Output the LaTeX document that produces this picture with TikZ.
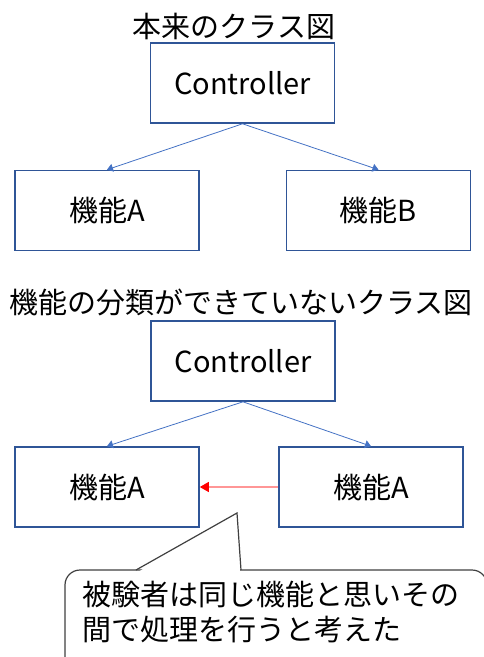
\documentclass[tikz,border=0pt]{standalone}
\usepackage{fontspec}
\setmainfont{Noto Sans CJK JP}
\usetikzlibrary{arrows.meta}
\definecolor{boxblue}{RGB}{47,85,151}
\definecolor{lineblue}{RGB}{68,114,196}
\definecolor{lightred}{RGB}{255,150,150}
\definecolor{calloutgray}{RGB}{64,64,64}
\begin{document}
\begin{tikzpicture}[x=1pt,y=-1pt,
  cls/.style={draw=boxblue,line width=1.6pt,fill=white,minimum width=184pt,minimum height=80pt,inner sep=0pt,font=\fontsize{29}{32}\selectfont},
  ttl/.style={inner sep=0pt,font=\fontsize{29}{32}\selectfont},
  assoc/.style={draw=lineblue,line width=0.8pt,-{Triangle[width=8pt,length=6pt]}},
  redarrow/.style={draw=lightred,line width=1.2pt,-{Triangle[width=10pt,length=9pt,fill=red,color=red]}},
  calltxt/.style={inner sep=0pt,align=left,anchor=north west,font=\fontsize{29}{35}\selectfont}]
\useasboundingbox (0,0) rectangle (484,657);
\clip (0,0) rectangle (484,657);
% top diagram
\node[ttl] (t1) at (234,26) {本来のクラス図};
\node[cls] (c1) at (242.5,83) {Controller};
\node[cls] (a1) at (107,210.5) {機能A};
\node[cls] (b1) at (378.5,210.5) {機能B};
\draw[assoc] (c1.south) -- (a1.north);
\draw[assoc] (c1.south) -- (b1.north);
% bottom diagram
\node[ttl] (t2) at (241,302) {機能の分類ができていないクラス図};
\node[cls] (c2) at (243,361) {Controller};
\node[cls] (a2l) at (107,487) {機能A};
\node[cls] (a2r) at (371,487) {機能A};
\draw[assoc] (c2.south) -- (a2l.north);
\draw[assoc] (c2.south) -- (a2r.north);
\draw[redarrow] (a2r.west) -- (a2l.east);
% callout
\draw[calloutgray,line width=1.2pt,fill=white,rounded corners=15pt] (65,570) rectangle (487,690);
\coordinate (tip) at (237,513);
\coordinate (pl) at (136,570);
\coordinate (pr) at (241,570);
\fill[white] (138,572) -- (tip) -- (240,572) -- cycle;
\draw[calloutgray,line width=1.2pt,line join=miter] (pl) -- (tip) -- (pr);
\node[calltxt] (txt) at (82,581) {被験者は同じ機能と思いその\\間で処理を行うと考えた};
\end{tikzpicture}
\end{document}
